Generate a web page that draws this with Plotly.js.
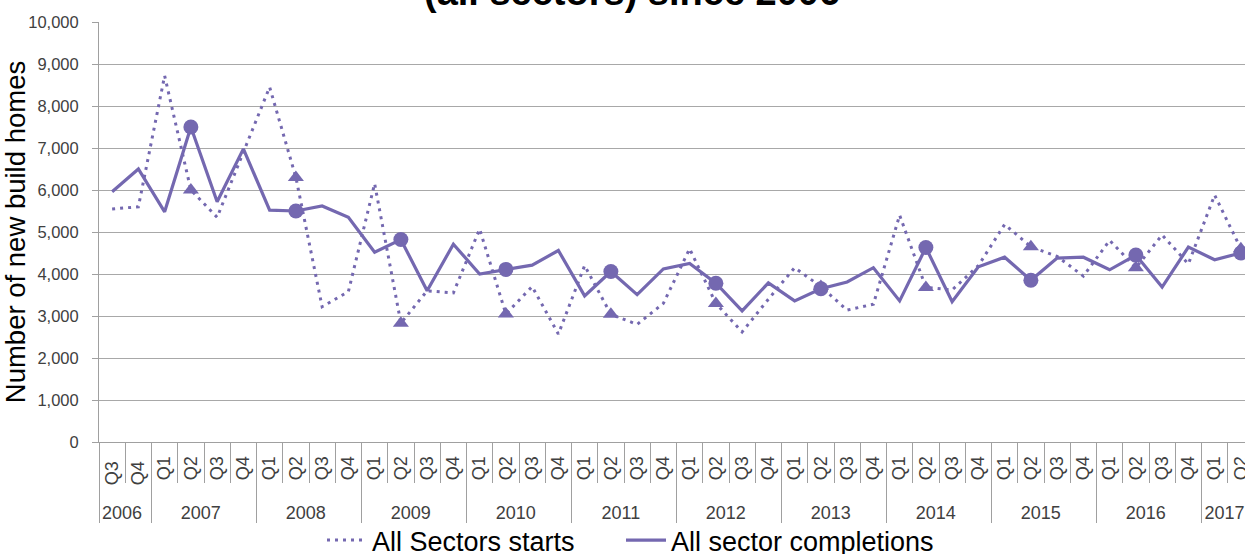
<!DOCTYPE html>
<html><head><meta charset="utf-8">
<script src="https://cdn.plot.ly/plotly-3.0.1.min.js"></script>
<style>html,body{margin:0;padding:0;overflow:hidden;background:#fff;width:1245px;height:554px}</style>
</head><body><div id="chart" style="width:1270px;height:580px"></div>
<script>
const years = ['2006','2006',
  '2007','2007','2007','2007','2008','2008','2008','2008',
  '2009','2009','2009','2009','2010','2010','2010','2010',
  '2011','2011','2011','2011','2012','2012','2012','2012',
  '2013','2013','2013','2013','2014','2014','2014','2014',
  '2015','2015','2015','2015','2016','2016','2016','2016',
  '2017','2017'];
const quarters = ['Q3','Q4',
  'Q1','Q2','Q3','Q4','Q1','Q2','Q3','Q4',
  'Q1','Q2','Q3','Q4','Q1','Q2','Q3','Q4',
  'Q1','Q2','Q3','Q4','Q1','Q2','Q3','Q4',
  'Q1','Q2','Q3','Q4','Q1','Q2','Q3','Q4',
  'Q1','Q2','Q3','Q4','Q1','Q2','Q3','Q4',
  'Q1','Q2'];
const starts = [5550, 5600,
  8720, 6000, 5350, 6900, 8450, 6300, 3220, 3580,
  6150, 2830, 3600, 3550, 5070, 3050, 3700, 2570,
  4200, 3040, 2800, 3300, 4600, 3300, 2620, 3400,
  4150, 3700, 3140, 3280, 5400, 3680, 3620, 4200,
  5180, 4650, 4420, 3950, 4800, 4150, 4930, 4240,
  5880, 4600];
const completions = [5960, 6500,
  5480, 7500, 5720, 6980, 5520, 5500, 5620, 5350,
  4520, 4820, 3600, 4710, 4000, 4110, 4210, 4560,
  3480, 4060, 3510, 4120, 4250, 3780, 3120, 3790,
  3360, 3650, 3810, 4150, 3360, 4630, 3340, 4170,
  4400, 3850, 4380, 4400, 4100, 4450, 3690, 4640,
  4340, 4500];
const seriesNames = ['All Sectors starts', 'All sector completions'];
const titleText = '(all sectors) since 2006';
const yTitle = 'Number of new build homes';
const markedQuarter = 'Q2';

const purple = '#7468b0';
const font = 'Liberation Sans, Arial, sans-serif';

// Plotly orders multicategory inner labels by first appearance; the partial
// first year gets distinct keys (trailing space, collapsed when drawn) so each
// year's quarters keep Q1..Q4 order. A leading no-break space pads the label band.
const pad = '\u00a0';
const axisQuarters = quarters.map((q, i) => pad + q + (years[i] === years[0] ? ' ' : ''));
const xCats = [years, axisQuarters];

const idx = quarters.map((q,i)=>q===markedQuarter?i:-1).filter(i=>i>=0);
const pick = arr => idx.map(i=>arr[i]);

const traces = [
  {x:xCats, y:starts, name:seriesNames[0], type:'scatter', mode:'lines', legend:'legend',
   line:{color:purple, width:3, dash:'3px,5px'}},
  {x:xCats, y:completions, name:seriesNames[1], type:'scatter', mode:'lines', legend:'legend2',
   line:{color:purple, width:3.2}},
  {x:[pick(years),pick(axisQuarters)], y:pick(starts), type:'scatter', mode:'markers', showlegend:false,
   marker:{symbol:'triangle-up', size:14, color:purple}},
  {x:[pick(years),pick(axisQuarters)], y:pick(completions), type:'scatter', mode:'markers', showlegend:false,
   marker:{symbol:'circle', size:15, color:purple}}
];

const legendBase = {orientation:'h', xanchor:'left', y:-(516-442)/420, yanchor:'top',
  font:{family:font, size:27, color:'#000'}, itemwidth:40, bgcolor:'rgba(0,0,0,0)'};

const layout = {
  width:1270, height:580,
  margin:{l:99, r:16, t:22, b:138},
  paper_bgcolor:'#fff', plot_bgcolor:'#fff',
  font:{family:font, color:'#404040'},
  showlegend:true,
  legend:Object.assign({}, legendBase, {x:(322-99)/1155}),
  legend2:Object.assign({}, legendBase, {x:(621-99)/1155}),
  xaxis:{type:'multicategory', range:[-0.5, years.length-0.5], autorange:false,
    showline:true, linecolor:'#a0a0a0', linewidth:1,
    ticks:'outside', ticklen:40, tickcolor:'#a0a0a0', tickwidth:1, tickson:'boundaries',
    tickangle:-90, ticklabelstandoff:6,
    showdividers:true, dividercolor:'#a0a0a0', dividerwidth:1,
    tickfont:{family:font, size:18, color:'#404040'}, showgrid:false, zeroline:false},
  yaxis:{range:[0,10000], tickvals:[0,1000,2000,3000,4000,5000,6000,7000,8000,9000,10000],
    tickformat:',d', showline:true, linecolor:'#a0a0a0', linewidth:1,
    ticks:'outside', ticklen:6, tickcolor:'#a0a0a0', ticklabelstandoff:10,
    gridcolor:'#a8a8a8', gridwidth:1, zeroline:false,
    tickfont:{family:font, size:16.5, color:'#404040'},
    title:{text:yTitle, standoff:1, font:{family:font, size:27.5, color:'#000'}}},
  annotations:[{text:titleText, xref:'paper', yref:'paper', x:(632-99)/1155, y:1, xanchor:'center', yanchor:'bottom',
    yshift:7, showarrow:false, font:{family:font, size:38, color:'#000', weight:'bold'}}]
};
Plotly.newPlot('chart', traces, layout, {displayModeBar:false, staticPlot:true});
</script></body></html>
